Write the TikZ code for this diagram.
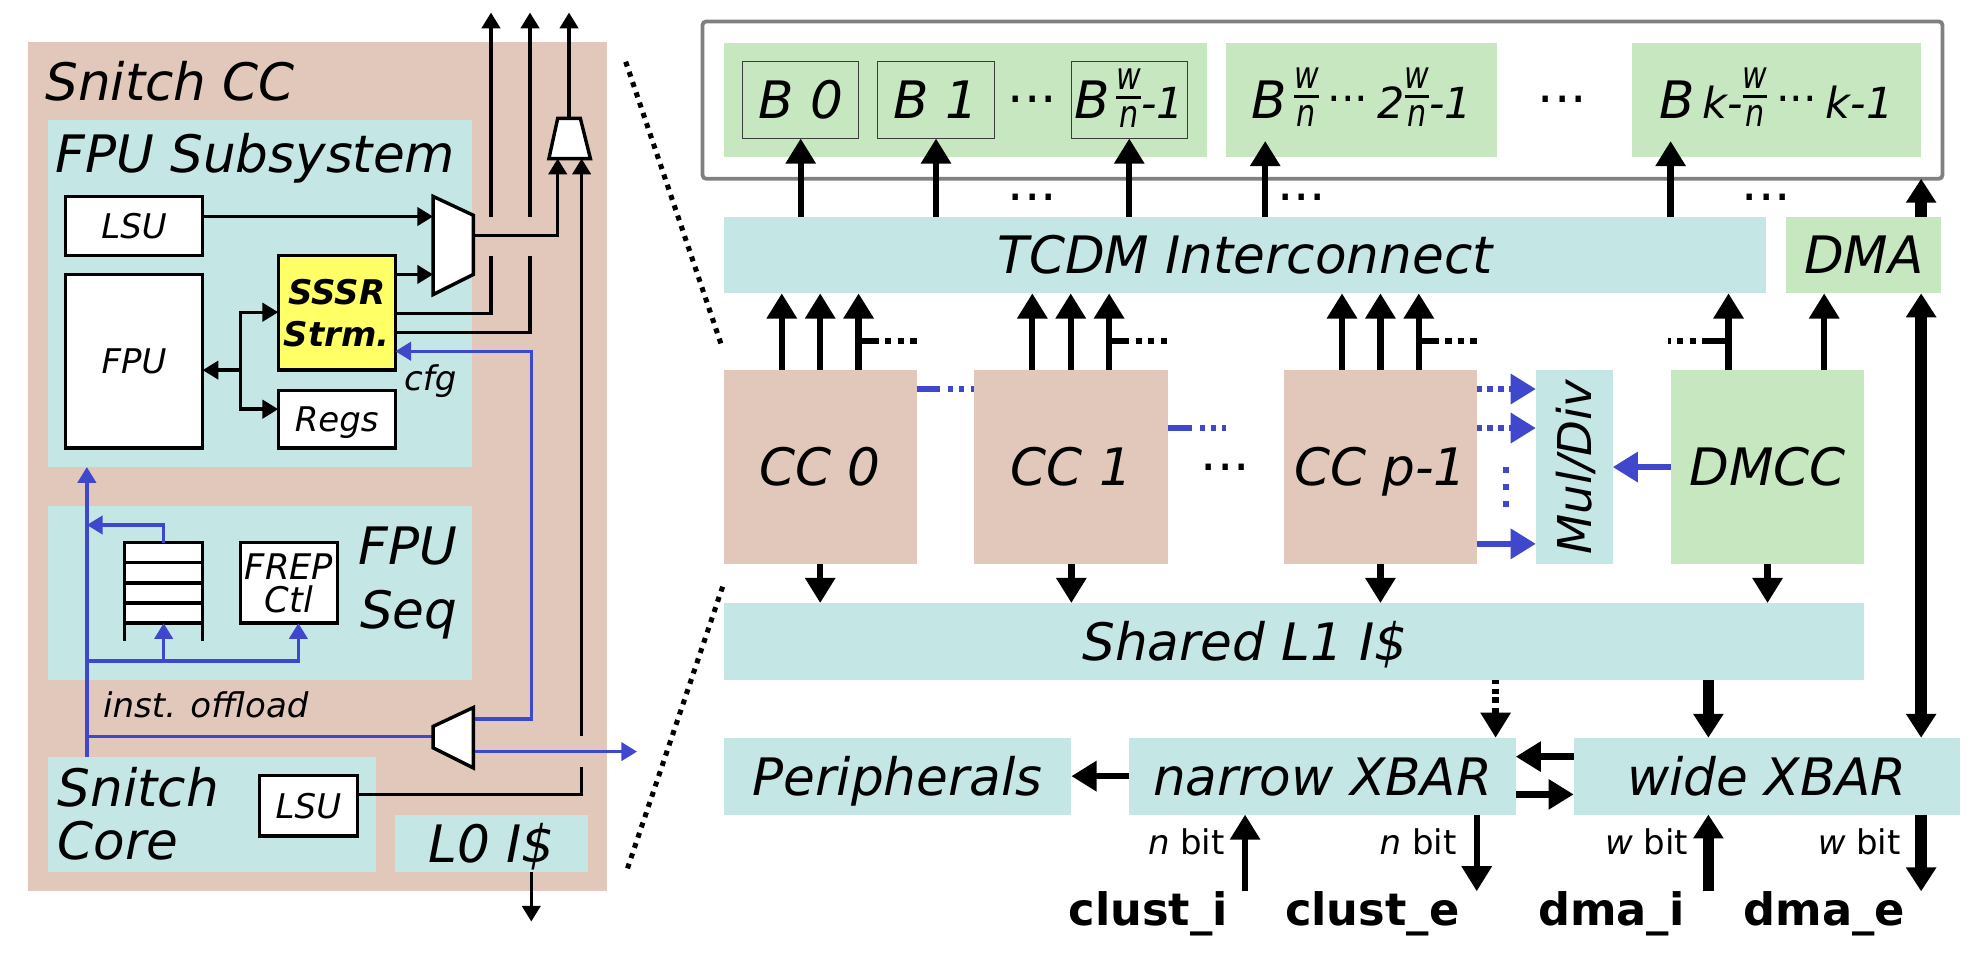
\documentclass[tikz,border=0pt]{standalone}
\usepackage{graphicx}
\usepackage{fontspec}
\setmainfont{DejaVu Sans}
\usetikzlibrary{arrows.meta,fit,calc}
\definecolor{ccbrown}{RGB}{226,200,187}
\definecolor{icyan}{RGB}{196,231,230}
\definecolor{bgreen}{RGB}{199,231,193}
\definecolor{syellow}{RGB}{255,255,102}
\definecolor{iblue}{RGB}{63,72,204}
\definecolor{fgray}{RGB}{128,128,128}
\definecolor{bborder}{RGB}{60,60,60}
\newcommand\wn{\raisebox{-6.5pt}{\fontsize{24}{24}\selectfont\itshape\vbox{\offinterlineskip\halign{\hfil##\hfil\cr \scalebox{1}[1.25]{w}\cr\noalign{\kern5.5pt\hrule height 2.5pt\kern5.5pt}\scalebox{1}[1.25]{n}\cr}}}}
\newcommand\cds{\raisebox{13pt}{\upshape...}}
\begin{document}
\begin{tikzpicture}[x=1pt,y=-1pt,
 bx/.style={inner sep=0pt,outer sep=0pt},
 lbl/.style={inner sep=0pt,outer sep=0pt},
 big/.style={font=\fontsize{41}{44}\selectfont\itshape},
 bigc/.style={lbl,big,text height=30pt,text depth=0pt},
 sml/.style={font=\fontsize{27}{30}\selectfont\itshape},
 smlc/.style={lbl,sml,text height=19.7pt,text depth=0pt},
 wbx/.style={bx,draw=black,line width=2.7pt,fill=white},
 ll/.style={line width=2.7pt},
 la/.style={ll,-{Triangle[width=14.5pt,length=12.5pt]}},
 lb/.style={ll,draw=iblue},
 lba/.style={lb,-{Triangle[width=14.5pt,length=12.5pt]}},
 rl/.style={line width=5pt},
 ra/.style={rl,-{Triangle[width=23pt,length=20pt]}},
 rba/.style={ra,draw=iblue},
 rt/.style={line width=9pt,-{Triangle[width=23pt,length=19pt]}},
 rtb/.style={line width=9pt,{Triangle[width=23pt,length=19pt]}-{Triangle[width=23pt,length=19pt]}},
 zoomdots/.style={line width=4pt,dash pattern=on 4pt off 4.6pt},
 dotlbl/.style={font=\fontsize{41}{44}\selectfont,inner sep=0pt},
 bitlbl/.style={font=\fontsize{27}{30}\selectfont,anchor=base east,inner sep=0pt},
 portlbl/.style={font=\fontsize{35.5}{38}\selectfont\bfseries,anchor=base,inner sep=0pt},
 mux/.style={ll,fill=white,line join=miter}
]
\useasboundingbox (0,0) rectangle (1568,768);

% ================= LEFT PANEL =================
\node[bx,fill=ccbrown,fit={(22,33) (482,708)}] (snitchcc) {};
\node[big,lbl,anchor=base west] (tcc) at (36,80) {Snitch CC};
\node[bx,fill=icyan,fit={(38,95) (375,371)}] (fpuss) {};
\node[big,lbl,anchor=base west] (tfss) at (44,137) {FPU Subsystem};
\node[bx,fill=icyan,fit={(38,402) (375,540)}] (fpuseq) {};
\node[big,lbl,anchor=base west] (tseq1) at (285,448) {FPU};
\node[big,lbl,anchor=base west] (tseq2) at (286,499) {Seq};
\node[bx,fill=icyan,fit={(38,601) (299,693)}] (core) {};
\node[big,lbl,anchor=base west] (tcore1) at (46,641) {Snitch};
\node[big,lbl,anchor=base west] (tcore2) at (46,683) {Core};
\node[bx,fill=icyan,fit={(314,647) (467,693)}] (l0) {};
\node[bigc] (tl0) at (l0.center) {L0 I\$};

% top outputs
\coordinate (t1) at (390,10); \coordinate (t2) at (421,10); \coordinate (t3) at (452,10);
\coordinate (g1) at (390,172); \coordinate (g2) at (421,172);
\coordinate (h1) at (390,203); \coordinate (h2) at (421,203);
\coordinate (k1) at (390,249); \coordinate (k2) at (421,264);
\draw[la] (g1) -- (t1);
\draw[la] (g2) -- (t2);

\node[wbx,fit={(52,156) (161,203)}] (lsu1) {};
\node[smlc] (tlsu1) at (lsu1.center) {LSU};
\node[wbx,fit={(52,218) (161,356)}] (fpu) {};
\node[smlc] (tfpu) at (fpu.center) {FPU};
\node[wbx,fill=syellow,fit={(221,203) (314,294)}] (sssr) {};
\node[lbl,font=\fontsize{27}{30}\selectfont\bfseries\itshape,anchor=base] (tsssr1) at (267.5,241.5) {SSSR};
\node[lbl,font=\fontsize{27}{30}\selectfont\bfseries\itshape,anchor=base] (tsssr2) at (267.5,275.5) {Strm.};
\node[wbx,fit={(221,310) (314,356)}] (regs) {};
\node[smlc] (tregs) at (regs.center) {Regs};
\node[sml,lbl,anchor=base west] (tcfg) at (321,310) {cfg};

\draw[ll] (sssr.east |- k1) -- (k1) -- (h1);
\draw[ll] (sssr.east |- k2) -- (k2) -- (h2);

% mux 1
\draw[mux] (344,156) -- (376,171) -- (376,218) -- (344,234) -- cycle;
\coordinate (m1i1) at (344,172); \coordinate (m1i2) at (344,218); \coordinate (m1o) at (376,187);
\draw[la] (lsu1.east |- m1i1) -- (m1i1);
\draw[la] (sssr.east |- m1i2) -- (m1i2);
% mux 2
\draw[mux] (436,126) -- (469,126) -- (461,94) -- (443,94) -- cycle;
\coordinate (m2i1) at (443,126); \coordinate (m2i2) at (462,126); \coordinate (m2o) at (452,94);
\draw[la] (m1o) -| (m2i1);
\draw[la] (m2o) -- (t3);

% FPU <-> SSSR / Regs
\coordinate (jf) at (191,294); \coordinate (ja) at (191,248); \coordinate (jb) at (191,325);
\draw[la] (jf) -- (fpu.east |- jf);
\draw[la] (jb) -- (ja) -- (sssr.west |- ja);
\draw[la] (ja) -- (jb) -- (regs.west |- jb);

% FPU sequencer
\node[wbx,fit={(99,431) (161,495)}] (fifo) {};
\foreach \yy in {447,463,479} \draw[ll] (99,\yy) -- (161,\yy);
\draw[ll] (fifo.south west) -- ++(0,14);
\draw[ll] (fifo.south east) -- ++(0,14);
\node[wbx,fit={(191,431) (268,495)}] (frep) {};
\node[lbl,font=\fontsize{28}{30}\selectfont\itshape,anchor=base] (tfrep1) at (229.5,460) {FREP};
\node[lbl,font=\fontsize{28}{30}\selectfont\itshape,anchor=base] (tfrep2) at (229.5,486.5) {Ctl};

% Snitch core
\node[wbx,fit={(206,616) (284,664)}] (lsu2) {};
\node[smlc] (tlsu2) at (lsu2.center) {LSU};
\node[sml,lbl,anchor=base west] (toff) at (82,570) {inst. offload};

% blue offload paths
\coordinate (cf) at (422,279); \coordinate (m3i) at (376,571);
\draw[lba] (m3i) -| (cf) -- (sssr.east |- cf);
\coordinate (m3o1) at (344,585); \coordinate (m3o2) at (376,597);
\coordinate (ioff) at (69,585); \coordinate (offout) at (506,597);
\draw[lb] (m3o1) -- (ioff);
\draw[lba] (m3o2) -- (offout);
\draw[lba] (core.north -| ioff) -- (fpuss.south -| ioff);
\coordinate (fo) at (69,417);
\draw[lba] (fifo.north) |- (fo);
\coordinate (fb) at (69,525); \coordinate (fb2) at (237,525);
\draw[lba] (fb) -| (frep.south -| fb2);
\draw[lba] (fifo.south |- fb) -- (fifo.south);
% mux 3
\draw[mux] (376,562) -- (376,610) -- (344,594) -- (344,577) -- cycle;

% core LSU to mux 2
\coordinate (v1) at (462,585); \coordinate (v2) at (462,609); \coordinate (v3) at (462,631);
\draw[la] (v1) -- (m2i2);
\draw[ll] (lsu2.east |- v3) -- (v3) -- (v2);
% L0 out
\coordinate (l0o) at (422,732);
\draw[la] (l0.south -| l0o) -- (l0o);

% zoom dotted lines
\coordinate (z1) at (497,49); \coordinate (z2) at (574,277);
\coordinate (z3) at (574,466); \coordinate (z4) at (497,694);
\draw[zoomdots] (z1) -- (z2);
\draw[zoomdots] (z3) -- (z4);

% ================= RIGHT PANEL =================
\node[bx,draw=fgray,line width=3pt,rounded corners=3pt,fit={(558,17) (1543,142)}] (frame) {};
\node[bx,fill=bgreen,fit={(575,34) (959,125)}] (bg1) {};
\node[bx,fill=bgreen,draw=bborder,line width=1pt,fit={(590,49) (682,110)}] (b0) {};
\node[bigc] (tb0) at (b0.center) {B 0};
\node[bx,fill=bgreen,draw=bborder,line width=1pt,fit={(697,49) (790,110)}] (b1) {};
\node[bigc] (tb1) at (b1.center) {B 1};
\node[bx,fill=bgreen,draw=bborder,line width=1pt,fit={(851,49) (943,110)}] (bw) {};
\node[bigc] (tbw) at (bw.center) {B\hspace{5pt}\wn{}{\fontsize{34}{36}\selectfont -1}};
\node[dotlbl] (d1) at (820,79) {...};
\node[bx,fill=bgreen,fit={(974,34) (1189,125)}] (bg2) {};
\node[bigc] (tbg2) at ($(bg2.center)+(0,-0.5)$) {B\hspace{6pt}\wn\hspace{7pt}{\fontsize{34}{36}\selectfont\cds\hspace{7pt}2\wn-1}};
\node[dotlbl] (d2) at (1241,79) {...};
\node[bx,fill=bgreen,fit={(1296,34) (1526,125)}] (bg3) {};
\node[bigc] (tbg3) at ($(bg3.center)+(0,-0.5)$) {B\hspace{6pt}{\fontsize{34}{36}\selectfont k-\wn\hspace{7pt}\cds\hspace{7pt}k-1}};

\node[bx,fill=icyan,fit={(575,172) (1403,233)}] (tcdm) {};
\node[bigc] (ttcdm) at (tcdm.center) {TCDM Interconnect};
\node[bx,fill=bgreen,fit={(1419,172) (1542,233)}] (dma) {};
\node[bigc] (tdma) at (dma.center) {DMA};

\coordinate (bt2) at (1005,112); \coordinate (bt3) at (1327,112);
\draw[ra] (tcdm.north -| b0) -- (b0.south);
\draw[ra] (tcdm.north -| b1) -- (b1.south);
\draw[ra] (tcdm.north -| bw) -- (bw.south);
\draw[ra] (tcdm.north -| bt2) -- (bt2);
\draw[ra] (tcdm.north -| bt3) -- (bt3);
\node[dotlbl] (d3) at (820,157) {...};
\node[dotlbl] (d4) at (1034,157) {...};
\node[dotlbl] (d5) at (1403,157) {...};

\node[bx,fill=ccbrown,fit={(575,294) (728,448)}] (cc0) {};
\node[bigc] (tcc0) at (cc0.center) {CC 0};
\node[bx,fill=ccbrown,fit={(774,294) (928,448)}] (cc1) {};
\node[bigc] (tcc1) at (cc1.center) {CC 1};
\node[bx,fill=ccbrown,fit={(1020,294) (1173,448)}] (ccp) {};
\node[bigc] (tccp) at (ccp.center) {CC p-1};
\node[bx,fill=icyan,fit={(1220,294) (1281,448)}] (muldiv) {};
\node[lbl,font=\fontsize{37}{40}\selectfont\itshape,rotate=90,text height=27pt,text depth=0pt] (tmd) at (muldiv.center) {Mul/Div};
\node[bx,fill=bgreen,fit={(1327,294) (1481,448)}] (dmcc) {};
\node[bigc] (tdmcc) at (dmcc.center) {DMCC};
\node[dotlbl] (d6) at (973.5,371) {...};

\node[bx,fill=icyan,fit={(575,479) (1481,540)}] (l1) {};
\node[bigc] (tl1) at (989,509.5) {Shared L1 I\$};

\coordinate (brY) at (0,271);
\foreach \c in {cc0,cc1,ccp} {
  \path ($(\c.north west)+(46,0)$) coordinate (\c a)
        ($(\c.north west)+(76.5,0)$) coordinate (\c b)
        ($(\c.north west)+(107,0)$) coordinate (\c c);
  \draw[ra] (\c a) -- (\c a |- tcdm.south);
  \draw[ra] (\c b) -- (\c b |- tcdm.south);
  \draw[ra] (\c c) -- (\c c |- tcdm.south);
  \draw[rl,dash pattern=on 16pt off 5pt on 5pt off 5pt on 5pt off 5pt on 5pt] (\c c |- brY) -- (\c.east |- brY);
  \draw[ra] (\c.south) -- (\c.south |- l1.north);
}
\path ($(dmcc.north west)+(46,0)$) coordinate (dm1) ($(dmcc.north west)+(122,0)$) coordinate (dm2);
\coordinate (dmbr) at (1325,271);
\draw[ra] (dm1) -- (dm1 |- tcdm.south);
\draw[ra] (dm2) -- (dm2 |- dma.south);
\draw[rl,dash pattern=on 21pt off 5pt on 5pt off 5pt on 5pt off 5pt on 5pt] (dm1 |- brY) -- (dmbr);
\draw[ra] (dmcc.south) -- (dmcc.south |- l1.north);

% blue links
\coordinate (bl1) at (0,309); \coordinate (bl2) at (0,340); \coordinate (bl3) at (0,432);
\coordinate (bl2e) at (974,340);
\draw[rl,draw=iblue,dash pattern=on 19pt off 6pt on 4pt off 5pt on 4pt off 5pt on 4pt] (cc0.east |- bl1) -- (cc1.west |- bl1);
\draw[rl,draw=iblue,dash pattern=on 19pt off 6pt on 4pt off 5pt on 4pt off 5pt on 4pt] (cc1.east |- bl2) -- (bl2e);
\draw[rba,dash pattern=on 4.5pt off 4pt] (ccp.east |- bl1) -- (muldiv.west |- bl1);
\draw[rba,dash pattern=on 4.5pt off 4pt] (ccp.east |- bl2) -- (muldiv.west |- bl2);
\coordinate (vd1) at (1196,371); \coordinate (vd2) at (1196,403);
\draw[rl,draw=iblue,dash pattern=on 5pt off 8.5pt] (vd1) -- (vd2);
\draw[rba] (ccp.east |- bl3) -- (muldiv.west |- bl3);
\draw[rba] (dmcc.west) -- (muldiv.east);

% XBARs
\node[bx,fill=icyan,fit={(575,586) (851,647)}] (periph) {};
\node[bigc] (tperiph) at (periph.center) {Peripherals};
\node[bx,fill=icyan,fit={(897,586) (1204,647)}] (narrow) {};
\node[bigc] (tnarrow) at (narrow.center) {narrow XBAR};
\node[bx,fill=icyan,fit={(1250,586) (1557,647)}] (wide) {};
\node[bigc] (twide) at (wide.center) {wide XBAR};

\coordinate (nx) at (1188,0); \coordinate (wx) at (1357,0); \coordinate (dmx) at (1526,0);
\draw[ra,dash pattern=on 3pt off 4pt on 4pt off 3pt on 4.5pt off 3.5pt on 40pt] (l1.south -| nx) -- (narrow.north -| nx);
\draw[rt] (l1.south -| wx) -- (wide.north -| wx);
\draw[rt] (dma.north -| dmx) -- (frame.south -| dmx);
\draw[rtb] (dma.south -| dmx) -- (wide.north -| dmx);
\draw[ra] (narrow.west) -- (periph.east);
\coordinate (yA) at (0,601); \coordinate (yB) at (0,631);
\draw[ra] (wide.west |- yA) -- (narrow.east |- yA);
\draw[ra] (narrow.east |- yB) -- (wide.west |- yB);

% external ports
\coordinate (pci) at (989,708); \coordinate (pce) at (1173,708);
\coordinate (pdi) at (1357,708); \coordinate (pde) at (1526,708);
\draw[ra] (pci) -- (narrow.south -| pci);
\draw[ra] (narrow.south -| pce) -- (pce);
\draw[rt] (pdi) -- (wide.south -| pdi);
\draw[rt] (wide.south -| pde) -- (pde);
\node[bitlbl] (nb1) at (973,679) {\textit{n} bit};
\node[bitlbl] (nb2) at (1157,679) {\textit{n} bit};
\node[bitlbl] (wb1) at (1341,679) {\textit{w} bit};
\node[bitlbl] (wb2) at (1510,679) {\textit{w} bit};
\node[portlbl] (ci) at (912,735) {clust\_i};
\node[portlbl] (ce) at (1090,735) {clust\_e};
\node[portlbl] (di) at (1280,735) {dma\_i};
\node[portlbl] (de) at (1449,735) {dma\_e};
\end{tikzpicture}
\end{document}
